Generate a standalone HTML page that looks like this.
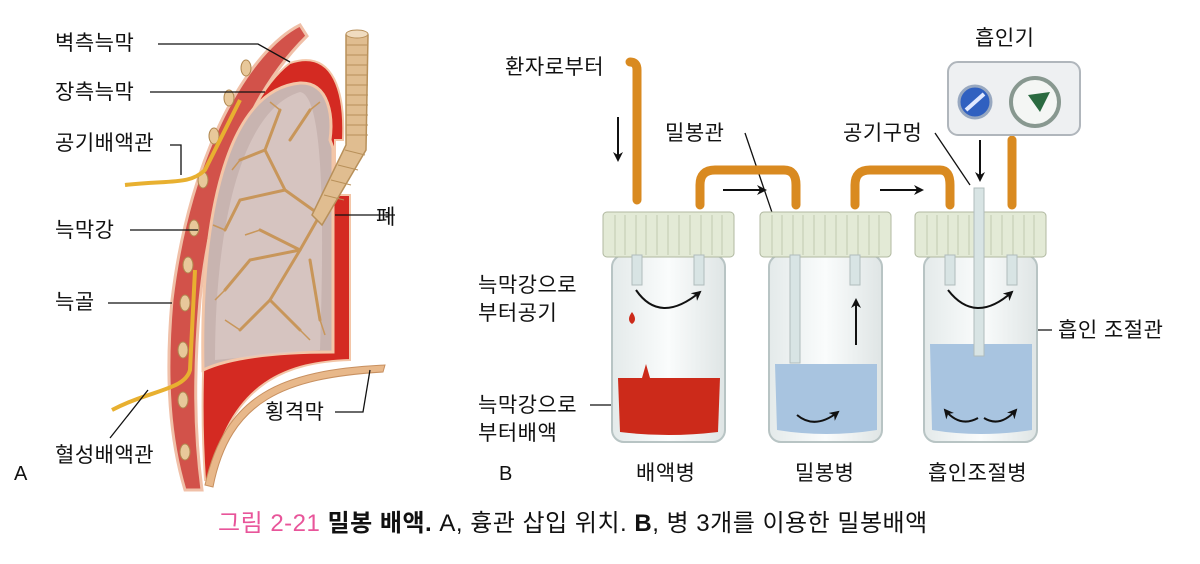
<!DOCTYPE html>
<html><head><meta charset="utf-8"><style>
body{margin:0;background:#fff;}
svg{display:block;font-family:"Liberation Sans","Noto Sans CJK KR",sans-serif;}
</style></head><body>
<svg width="1200" height="564" viewBox="0 0 1200 564">
<defs>
<marker id="ah" markerWidth="10" markerHeight="10" refX="8" refY="5" orient="auto" markerUnits="userSpaceOnUse"><path d="M0,0 L10,5 L0,10 L3,5 Z" fill="#111"/></marker>
<linearGradient id="glass" x1="0" x2="1"><stop offset="0" stop-color="#e4eaea"/><stop offset=".5" stop-color="#fafcfc"/><stop offset="1" stop-color="#dfe5e5"/></linearGradient>
</defs>
<!-- Lung section -->
<path d="M300,25 C250,50 190,150 172,300 C165,380 170,440 185,490 L202,490 C194,430 194,370 200,300 C212,180 252,90 307,36 Z" fill="#d2524a" stroke="#f0c0a8" stroke-width="3"/>
<g fill="#e8c89a" stroke="#b08850" stroke-width="1">
<ellipse cx="246" cy="68" rx="5" ry="8"/><ellipse cx="229" cy="98" rx="5" ry="8"/><ellipse cx="214" cy="136" rx="5" ry="8"/><ellipse cx="203" cy="180" rx="5" ry="8"/><ellipse cx="194" cy="228" rx="5" ry="8"/><ellipse cx="188" cy="265" rx="5" ry="8"/><ellipse cx="185" cy="303" rx="5" ry="8"/><ellipse cx="183" cy="350" rx="5" ry="8"/><ellipse cx="183" cy="400" rx="5" ry="8"/><ellipse cx="185" cy="452" rx="5" ry="8"/></g>
<path d="M205,480 C195,330 215,120 290,63 C335,48 345,95 343,140 L335,140 L335,195 L350,195 L350,360 C290,362 230,380 210,480 Z" fill="#d42a22" stroke="#f3c6a8" stroke-width="2"/>
<path d="M203,370 C200,220 225,90 300,83 C330,82 333,118 330,140 L333,148 L333,352 C290,352 235,355 203,370 Z" fill="#c8b4b0" stroke="#f3c6a8" stroke-width="3"/>
<path d="M215,360 C215,230 240,110 300,92 C322,95 325,200 320,350 Z" fill="#dccbc8" opacity=".7"/>
<g stroke="#c8965a" stroke-width="3" fill="none" stroke-linecap="round">
<path d="M320,215 L300,250 L270,300 L240,330"/><path d="M300,250 L250,260 L225,290"/><path d="M320,215 L285,190 L265,150 L280,110"/><path d="M285,190 L240,200 L225,230"/><path d="M310,260 L320,320"/><path d="M270,300 L300,330"/><path d="M265,150 L240,160"/><path d="M300,250 L260,230"/><path d="M290,140 L310,110"/>
</g>
<g stroke="#c8965a" stroke-width="1.5" fill="none"><path d="M240,330 l-15,-10 M225,290 l-10,10 M225,230 l-12,-5 M280,110 l-10,-8 M240,160 l-8,10 M320,320 l5,15 M300,330 l10,10 M260,230 l-15,5 M310,110 l10,-8"/></g>
<path d="M346,35 L368,35 L366,150 L322,225 L312,215 L346,145 Z" fill="#e0bd90" stroke="#b8905a" stroke-width="1.5"/>
<g stroke="#b8905a" stroke-width="1"><path d="M346,45h22M346,55h22M346,65h22M346,75h22M346,85h22M346,95h22M346,105h22M346,115h22M346,125h22M346,135h22M345,150l20,5M338,165l20,5M331,180l20,5M324,195l20,5"/></g>
<ellipse cx="357" cy="34" rx="11" ry="4" fill="#f0dcc0" stroke="#b8905a"/>
<path d="M205,485 C225,395 280,370 385,365 L383,372 C285,378 230,400 213,487 Z" fill="#e8b88a" stroke="#c89060"/>
<path d="M125,185 C170,180 190,185 205,170 L240,100" stroke="#e8b030" stroke-width="4" fill="none"/>
<path d="M112,410 C150,390 185,390 190,370 L195,270" stroke="#e8b030" stroke-width="4" fill="none"/>
<g font-size="21" fill="#111" letter-spacing="0.5">
<text x="55" y="50">벽측늑막</text><text x="55" y="99">장측늑막</text><text x="55" y="150">공기배액관</text><text x="55" y="237">늑막강</text><text x="55" y="309">늑골</text><text x="55" y="462">혈성배액관</text><text x="376" y="224">폐</text><text x="265" y="419">횡격막</text>
<text x="14" y="480" font-size="20">A</text><text x="499" y="480" font-size="20">B</text>
<text x="505" y="74">환자로부터</text><text x="665" y="140">밀봉관</text><text x="843" y="140">공기구멍</text><text x="975" y="45">흡인기</text>
<text x="478" y="292">늑막강으로</text><text x="478" y="320">부터공기</text><text x="478" y="412">늑막강으로</text><text x="478" y="440">부터배액</text>
<text x="1058" y="337">흡인 조절관</text><text x="636" y="480">배액병</text><text x="795" y="480">밀봉병</text><text x="928" y="480">흡인조절병</text>
</g>
<g stroke="#111" stroke-width="1.3" fill="none">
<path d="M158,44 H258 L290,62"/><path d="M150,92 H265"/><path d="M170,145 H181 V175"/><path d="M130,230 H198"/><path d="M108,303 H172"/><path d="M110,438 L148,390"/><path d="M395,215 H335"/><path d="M335,412 H363 L370,370"/>
<path d="M745,133 L795,280"/><path d="M935,133 L970,185"/><path d="M1052,330 H980"/><path d="M590,405 H637"/>
</g>
<!-- Bottles -->
<g>
<g id="b">
<rect x="612" y="255" width="113" height="187" rx="12" fill="url(#glass)" stroke="#b8c4c4" stroke-width="2"/>
<rect x="603" y="212" width="131" height="45" rx="4" fill="#e3ead6" stroke="#b0b8a0"/>
<g stroke="#c2cab0"><path d="M615,215v40M625,215v40M636,215v40M646,215v40M657,215v40M668,215v40M679,215v40M690,215v40M701,215v40M712,215v40M722,215v40"/></g>
</g>
<use href="#b" x="157"/><use href="#b" x="312"/>
<path d="M618,378 H720 L718,432 Q668,438 620,432 Z" fill="#cc2a1a"/>
<path d="M632,312 q-6,8 0,12 q6,-4 0,-12z M642,378 l4,-14 4,14z" fill="#cc2a1a"/>
<path d="M775,364 H877 V430 Q826,438 777,430 Z" fill="#a8c4e0"/>
<path d="M930,344 H1032 V430 Q980,438 932,430 Z" fill="#a8c4e0"/>
<g fill="#d8e4e4" stroke="#b0bcbc"><rect x="632" y="255" width="10" height="30"/><rect x="694" y="255" width="10" height="30"/><rect x="790" y="255" width="10" height="108"/><rect x="850" y="255" width="10" height="30"/><rect x="945" y="255" width="10" height="30"/><rect x="1007" y="255" width="10" height="30"/><rect x="974" y="188" width="10" height="168"/></g>
<g stroke="#d98a20" stroke-width="9" fill="none" stroke-linecap="round">
<path d="M637,200 V70 Q637,62 630,62"/><path d="M700,205 V185 Q700,170 715,170 H784 Q796,170 796,185 V205"/><path d="M855,205 V185 Q855,170 870,170 H940 Q950,170 950,185 V205"/><path d="M1012,205 V140"/>
</g>
<g stroke="#111" stroke-width="2" fill="none" marker-end="url(#ah)">
<path d="M618,117 V160"/><path d="M723,190 H765"/><path d="M880,190 H922"/><path d="M980,140 V180"/>
<path d="M636,290 Q660,325 700,292"/><path d="M856,345 V300"/><path d="M797,415 Q815,430 838,412"/><path d="M948,290 Q975,325 1012,292"/><path d="M978,418 Q960,428 945,410"/><path d="M984,418 Q1000,428 1016,410"/>
</g>
<!-- Suction -->
<rect x="948" y="62" width="132" height="73" rx="10" fill="#eef0f2" stroke="#b0b6bc" stroke-width="2"/>
<circle cx="975" cy="102" r="16" fill="#3060c0" stroke="#98a8c0" stroke-width="3"/>
<path d="M966,110 L984,94" stroke="#e0e8ff" stroke-width="4"/>
<circle cx="1035" cy="102" r="24" fill="#f4f6f4" stroke="#889890" stroke-width="4"/>
<path d="M1028,95 L1050,92 L1040,112 Z" fill="#2a6a40"/>
</g>
<text x="218" y="531" font-size="24" fill="#111" letter-spacing="0.5"><tspan fill="#e8559a">그림 2-21</tspan> <tspan font-weight="bold">밀봉 배액.</tspan> A, 흉관 삽입 위치. <tspan font-weight="bold">B</tspan>, 병 3개를 이용한 밀봉배액</text>
</svg>
</body></html>
